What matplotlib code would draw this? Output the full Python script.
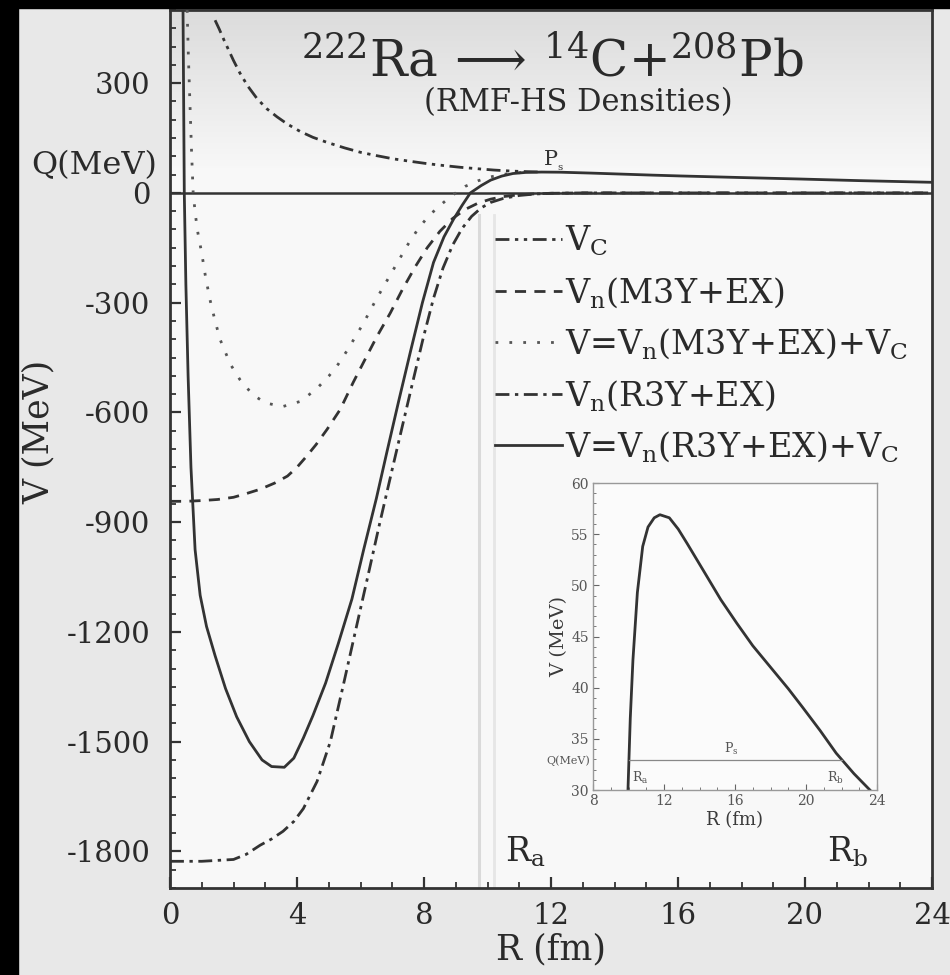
import numpy as np
import matplotlib
matplotlib.use("Agg")
import matplotlib.pyplot as plt
from matplotlib.patches import Rectangle
from matplotlib.ticker import MultipleLocator

plt.rcParams["font.family"] = ["DejaVu Serif"]
plt.rcParams["mathtext.fontset"] = "dejavuserif"

# ---------------- data: potentials for 222Ra -> 14C + 208Pb ----------------
# Coulomb potential V_C
r_vc = [1.42, 1.55, 1.7, 1.85, 2.0, 2.2, 2.45, 2.74, 3.05, 3.37, 3.7, 4.1, 4.5,
        4.95, 5.5, 6.0, 6.5, 7.04, 7.6, 8.1, 8.6, 9.15, 9.7, 10.2, 10.8, 11.3, 11.7]
v_vc = [472, 448, 418, 390, 362, 328, 292, 258, 230, 208, 188, 168, 152,
        138, 123, 111, 102, 93, 86, 80, 75, 70, 66, 62.5, 59.5, 58, 57]

# nuclear potential, M3Y+EX
r_m3n = [0, 0.5, 1.0, 1.5, 2.0, 2.4, 2.84, 3.3, 3.7, 4.0, 4.3, 4.6, 4.95, 5.36,
         5.77, 6.09, 6.52, 6.94, 7.32, 7.73, 8.1, 8.5, 8.9, 9.3, 9.7, 10.1, 10.5,
         11.0, 11.5, 12.0, 13.0, 24.0]
v_m3n = [-843, -843, -841, -838, -832, -822, -810, -793, -774, -750, -720, -688,
         -646, -592, -518, -464, -392, -328, -264, -201, -150, -105, -70, -45,
         -28, -17, -10, -5, -2.5, -1, 0, 0]

# total potential, M3Y+EX + V_C
r_m3t = [0.54, 0.58, 0.63, 0.68, 0.73, 0.8, 0.88, 1.0, 1.12, 1.26, 1.42, 1.58,
         1.9, 2.2, 2.6, 3.0, 3.55, 4.1, 4.6, 5.0, 5.3, 5.6, 6.1, 6.5, 6.9, 7.2,
         7.5, 7.8, 8.1, 8.4, 8.7, 9.0, 9.3, 9.7, 10.1, 10.6, 11.1]
v_m3t = [500, 370, 240, 110, 0, -60, -110, -165, -230, -292, -350, -401, -468,
         -510, -551, -574, -584, -570, -537, -501, -468, -428, -355, -290, -230,
         -185, -140, -100, -68, -42, -20, 0, 18, 33, 44, 52, 56]

# nuclear potential, R3Y+EX
r_r3n = [0, 1.0, 2.0, 2.4, 2.84, 3.2, 3.56, 3.9, 4.2, 4.63, 5.05, 5.46, 5.9, 6.2,
         6.6, 7.0, 7.36, 7.67, 7.98, 8.3, 8.6, 8.9, 9.2, 9.5, 9.8, 10.1, 10.5,
         11.0, 11.5, 12.0, 13.0, 24.0]
v_r3n = [-1827, -1827, -1822, -1808, -1783, -1766, -1745, -1718, -1683, -1609,
         -1500, -1345, -1175, -1060, -905, -755, -622, -508, -395, -288, -205,
         -143, -97, -64, -41, -26, -15, -7, -3, -1, 0, 0]

# total potential, R3Y+EX + V_C
r_tot = [0.41, 0.43, 0.45, 0.5, 0.57, 0.66, 0.79, 0.95, 1.15, 1.42, 1.75, 2.1,
         2.5, 2.9, 3.2, 3.6, 3.9, 4.2, 4.5, 4.9, 5.3, 5.73, 6.1, 6.5, 6.84, 7.2,
         7.57, 7.95, 8.3, 8.63, 8.93, 9.2, 9.46, 9.8, 10.1, 10.45, 10.8, 11.2,
         11.7, 12.3, 13.3, 14.2, 15.2, 16.1, 18.0, 19.8, 21.7, 24.0]
v_tot = [500, 250, 0, -250, -500, -750, -975, -1100, -1185, -1265, -1355, -1432,
         -1500, -1550, -1568, -1570, -1545, -1490, -1429, -1340, -1232, -1110,
         -975, -835, -705, -570, -435, -300, -190, -120, -72, -34, 0, 20, 35, 46,
         53, 56, 57, 56.6, 54.1, 51.5, 48.6, 46.3, 42.0, 38.1, 33.6, 29.0]

# barrier region (inset)
r_in = [9.97, 10.1, 10.25, 10.5, 10.8, 11.1, 11.45, 11.77, 12.3, 12.8, 13.3,
        14.2, 15.2, 16.1, 17.0, 18.0, 19.0, 19.8, 20.8, 21.7, 22.7, 23.6]
v_in = [30, 37, 42.7, 49.3, 53.8, 55.7, 56.6, 56.9, 56.6, 55.5, 54.1,
        51.5, 48.6, 46.3, 44.1, 42.0, 39.9, 38.1, 35.8, 33.6, 31.6, 30]

q_value = 32.9
r_turn = [10.0, 22.0]

x_ticks = [0, 4, 8, 12, 16, 20, 24]
y_ticks = [-1800, -1500, -1200, -900, -600, -300, 0, 300]
in_x_ticks = [8, 12, 16, 20, 24]
in_y_ticks = [30, 35, 40, 45, 50, 55, 60]

labels = [r"V$_\mathrm{C}$",
          r"V$_\mathrm{n}$(M3Y+EX)",
          r"V=V$_\mathrm{n}$(M3Y+EX)+V$_\mathrm{C}$",
          r"V$_\mathrm{n}$(R3Y+EX)",
          r"V=V$_\mathrm{n}$(R3Y+EX)+V$_\mathrm{C}$"]

# ---------------- figure ----------------
W, H = 950, 975
fig = plt.figure(figsize=(W / 100, H / 100), dpi=100, facecolor="#e8e8e8")

def fx(px):
    return px / W

def fy(py):
    return 1 - py / H

ink = "#333333"
ax = fig.add_axes([fx(170), fy(888), fx(932) - fx(170), fy(10) - fy(888)])
ax.set_facecolor("#f8f8f8")

# soft grey shading at the top of the plotting area
grad = np.linspace(0, 1, 256).reshape(-1, 1)
ax.imshow(np.dstack([0.86 + 0.11 * grad] * 3), aspect="auto",
          extent=[0, 1, 0.82, 1.0], transform=ax.transAxes, origin="upper",
          zorder=0)

lw = 2.0
ax.axhline(0, color=ink, lw=1.8, zorder=2)
ax.plot([9.72, 9.72], [-1900, -60], color="#dadada", lw=2.2, zorder=1)
ax.plot([10.2, 10.2], [-1900, -60], color="#e6e6e6", lw=2.0, zorder=1)

l1, = ax.plot(r_vc, v_vc, color=ink, lw=lw, ls=(0, (5, 2, 1.2, 2, 1.2, 2)), zorder=3)
l2, = ax.plot(r_m3n, v_m3n, color=ink, lw=lw, ls=(0, (4, 3)), zorder=3)
l3, = ax.plot(r_m3t, v_m3t, color="#555555", lw=lw, ls=(0, (1, 4)), zorder=3)
l4, = ax.plot(r_r3n, v_r3n, color=ink, lw=lw, ls=(0, (5, 2, 1.2, 2)), zorder=3)
l5, = ax.plot(r_tot, v_tot, color=ink, lw=lw, ls="-", zorder=4)

ax.set_xlim(0, 24)
ax.set_ylim(-1900, 500)
ax.set_xticks(x_ticks)
ax.set_xticklabels([str(v) for v in x_ticks])
ax.set_yticks(y_ticks)
ax.set_yticklabels([str(v) for v in y_ticks])
ax.xaxis.set_minor_locator(MultipleLocator(1))
ax.yaxis.set_minor_locator(MultipleLocator(50))
ax.tick_params(which="both", direction="in", colors=ink, labelcolor="#2a2a2a")
ax.tick_params(which="major", length=8, width=1.6, labelsize=21)
ax.tick_params(which="minor", length=4, width=1.3)
ax.tick_params(axis="y", pad=14)
ax.tick_params(axis="x", pad=10)
for s in ax.spines.values():
    s.set_color(ink)
    s.set_linewidth(2.0)

ax.set_xlabel("R (fm)", fontsize=25, color="#2a2a2a", labelpad=2)
ax.set_ylabel("V (MeV)", fontsize=25, color="#2a2a2a")
ax.yaxis.set_label_coords(-0.15, 0.52)

ax.text(-0.4, 76, "Q(MeV)", ha="right", va="center", fontsize=23,
        color="#2a2a2a", clip_on=False)
ax.text(11.75, 55, r"P$_{_\mathrm{s}}$", ha="left", va="bottom", fontsize=15,
        color=ink, zorder=5)
ax.text(10.55, -1800, r"R$_\mathrm{a}$", ha="left", va="center", fontsize=24,
        color="#2a2a2a")
ax.text(20.7, -1800, r"R$_\mathrm{b}$", ha="left", va="center", fontsize=24,
        color="#2a2a2a")

leg = ax.legend([l1, l2, l3, l4, l5], labels, loc="upper left",
                bbox_to_anchor=(fx(495), fy(224)), bbox_transform=fig.transFigure,
                frameon=False, fontsize=24, handlelength=2.0, handletextpad=0.1,
                labelspacing=0.5, borderpad=0, borderaxespad=0)
for t in leg.get_texts():
    t.set_color("#2a2a2a")

# title
fig.text(fx(552), fy(62), r"$^{222}$Ra$\,\longrightarrow\,$$^{14}$C+$^{208}$Pb",
         ha="center", va="center", fontsize=36, color="#2a2a2a")
fig.text(fx(578), fy(103), "(RMF-HS Densities)", ha="center", va="center",
         fontsize=22, color="#2a2a2a")

# ---------------- inset: barrier region ----------------
axi = fig.add_axes([fx(593), fy(790), fx(877) - fx(593), fy(483) - fy(790)])
axi.set_facecolor("#fbfbfb")
axi.plot(r_in, v_in, color=ink, lw=2.0)
axi.plot(r_turn, [q_value, q_value], color="#888888", lw=0.9)
axi.set_xlim(8, 24)
axi.set_ylim(30, 60)
axi.set_xticks(in_x_ticks)
axi.set_yticks(in_y_ticks)
axi.yaxis.set_minor_locator(MultipleLocator(1))
axi.xaxis.set_minor_locator(MultipleLocator(1))
axi.tick_params(which="both", direction="in", colors="#666666",
                labelcolor="#555555", labelsize=10, pad=3)
axi.tick_params(which="major", length=4)
axi.tick_params(which="minor", length=2.5)
for s in axi.spines.values():
    s.set_color("#999999")
    s.set_linewidth(1.0)
axi.set_xlabel("R (fm)", fontsize=13, color="#3a3a3a", labelpad=2)
axi.set_ylabel("V (MeV)", fontsize=14, color="#3a3a3a", labelpad=2)
axi.text(7.85, q_value, "Q(MeV)", ha="right", va="center", fontsize=8,
         color="#555555", clip_on=False)
axi.text(15.4, q_value + 0.3, r"P$_\mathrm{s}$", ha="left", va="bottom",
         fontsize=9, color="#555555")
axi.text(10.2, 31.2, r"R$_\mathrm{a}$", ha="left", va="center", fontsize=9,
         color="#555555")
axi.text(21.2, 31.2, r"R$_\mathrm{b}$", ha="left", va="center", fontsize=9,
         color="#555555")

# dark frame edges of the video capture
fig.patches.append(Rectangle((0, 0), fx(18), 1, transform=fig.transFigure,
                             color="black", zorder=10))
fig.patches.append(Rectangle((0, fy(8)), 1, 1 - fy(8), transform=fig.transFigure,
                             color="black", zorder=10))

fig.savefig("out.png", dpi=100, facecolor=fig.get_facecolor())
